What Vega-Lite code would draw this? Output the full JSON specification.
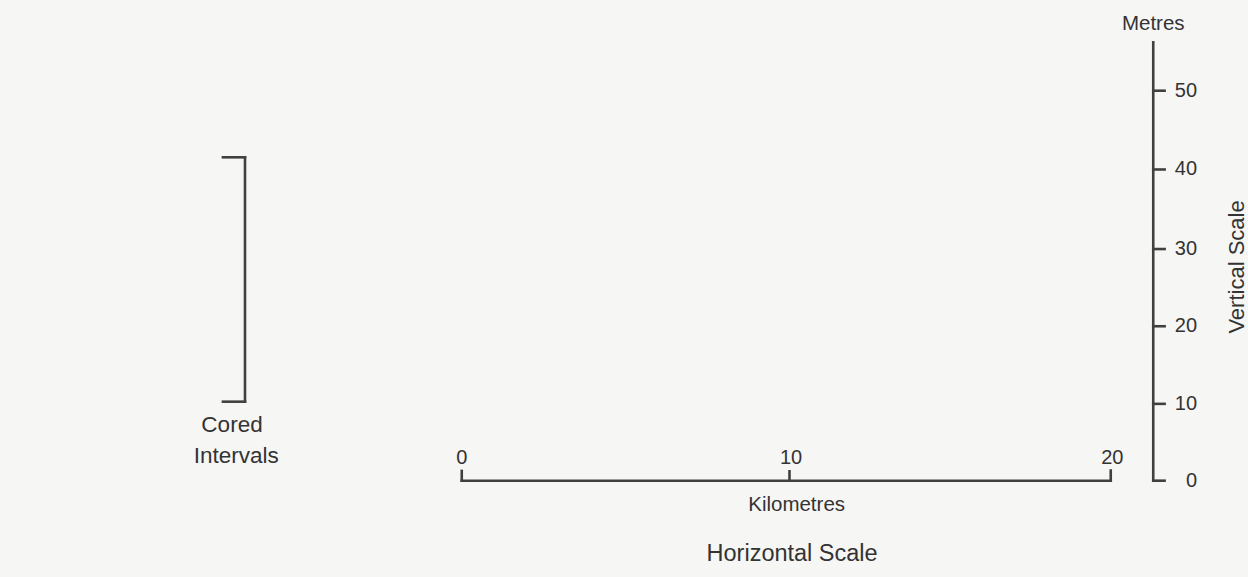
{
  "$schema": "https://vega.github.io/schema/vega-lite/v6.json",
  "width": 1248,
  "height": 577,
  "autosize": {"type": "fit", "contains": "padding"},
  "padding": 0,
  "background": "#f6f6f5",
  "config": {"view": {"stroke": null}, "font": "Liberation Sans"},
  "datasets": {
    "segs": [
      {"part": "horizontal bar", "x": 0, "x2": 20, "y": 0, "y2": 0},
      {"part": "h tick 0", "x": 0, "x2": 0, "y": 0, "y2": 1.25},
      {"part": "h tick 10", "x": 10.1, "x2": 10.1, "y": 0, "y2": 1.2},
      {"part": "h tick 20", "x": 20, "x2": 20, "y": 0, "y2": 1.3},
      {"part": "vertical bar", "x": 21.31, "x2": 21.31, "y": 0, "y2": 56.2},
      {"part": "v tick 0", "x": 21.31, "x2": 21.66, "y": 0, "y2": 0},
      {"part": "v tick 10", "x": 21.31, "x2": 21.66, "y": 9.85, "y2": 9.85},
      {"part": "v tick 20", "x": 21.31, "x2": 21.66, "y": 19.8, "y2": 19.8},
      {"part": "v tick 30", "x": 21.31, "x2": 21.66, "y": 29.7, "y2": 29.7},
      {"part": "v tick 40", "x": 21.31, "x2": 21.66, "y": 39.9, "y2": 39.9},
      {"part": "v tick 50", "x": 21.31, "x2": 21.66, "y": 50, "y2": 50},
      {"part": "bracket spine", "x": -6.68, "x2": -6.68, "y": 10.13, "y2": 41.46},
      {"part": "bracket top", "x": -7.36, "x2": -6.68, "y": 41.46, "y2": 41.46},
      {"part": "bracket bottom", "x": -7.36, "x2": -6.68, "y": 10.13, "y2": 10.13}
    ],
    "labels": [
      {"group": "hnum", "label": "0", "x": 0, "y": 2.85},
      {"group": "hnum", "label": "10", "x": 10.15, "y": 2.85},
      {"group": "hnum", "label": "20", "x": 20.05, "y": 2.85},
      {"group": "vnum", "label": "0", "x": 22.66, "y": 0},
      {"group": "vnum", "label": "10", "x": 22.66, "y": 9.85},
      {"group": "vnum", "label": "20", "x": 22.66, "y": 19.8},
      {"group": "vnum", "label": "30", "x": 22.66, "y": 29.7},
      {"group": "vnum", "label": "40", "x": 22.66, "y": 39.9},
      {"group": "vnum", "label": "50", "x": 22.66, "y": 50},
      {"group": "unit", "label": "Metres", "x": 21.31, "y": 58.6},
      {"group": "unit", "label": "Kilometres", "x": 10.32, "y": -3.1},
      {"group": "title", "label": "Horizontal Scale", "x": 10.18, "y": -9.4},
      {"group": "cored", "label": "Cored", "x": -7.08, "y": 7.2},
      {"group": "cored", "label": "Intervals", "x": -6.95, "y": 3.2},
      {"group": "vtitle", "label": "Vertical Scale", "x": 23.89, "y": 27.4}
    ]
  },
  "encoding": {
    "x": {"field": "x", "type": "quantitative", "axis": null, "scale": {"domain": [-14.23, 24.23], "nice": false, "zero": false}},
    "y": {"field": "y", "type": "quantitative", "axis": null, "scale": {"domain": [-12.35, 61.63], "nice": false, "zero": false}}
  },
  "layer": [
    {
      "data": {"name": "segs"},
      "mark": {"type": "rule", "color": "#404040", "strokeWidth": 2.6, "strokeCap": "square"},
      "encoding": {
        "x2": {"field": "x2"},
        "y2": {"field": "y2"}
      }
    },
    {
      "data": {"name": "labels"},
      "transform": [{"filter": "datum.group === 'hnum'"}],
      "mark": {"type": "text", "fontSize": 20, "align": "center", "baseline": "middle", "color": "#333333"},
      "encoding": {"text": {"field": "label", "type": "nominal"}}
    },
    {
      "data": {"name": "labels"},
      "transform": [{"filter": "datum.group === 'vnum'"}],
      "mark": {"type": "text", "fontSize": 20, "align": "right", "baseline": "middle", "color": "#333333"},
      "encoding": {"text": {"field": "label", "type": "nominal"}}
    },
    {
      "data": {"name": "labels"},
      "transform": [{"filter": "datum.group === 'unit'"}],
      "mark": {"type": "text", "fontSize": 20.5, "align": "center", "baseline": "middle", "color": "#333333"},
      "encoding": {"text": {"field": "label", "type": "nominal"}}
    },
    {
      "data": {"name": "labels"},
      "transform": [{"filter": "datum.group === 'title'"}],
      "mark": {"type": "text", "fontSize": 23.5, "align": "center", "baseline": "middle", "color": "#333333"},
      "encoding": {"text": {"field": "label", "type": "nominal"}}
    },
    {
      "data": {"name": "labels"},
      "transform": [{"filter": "datum.group === 'cored'"}],
      "mark": {"type": "text", "fontSize": 22.5, "align": "center", "baseline": "middle", "color": "#333333"},
      "encoding": {"text": {"field": "label", "type": "nominal"}}
    },
    {
      "data": {"name": "labels"},
      "transform": [{"filter": "datum.group === 'vtitle'"}],
      "mark": {"type": "text", "fontSize": 22, "align": "center", "baseline": "middle", "angle": 270, "color": "#333333"},
      "encoding": {"text": {"field": "label", "type": "nominal"}}
    }
  ]
}
